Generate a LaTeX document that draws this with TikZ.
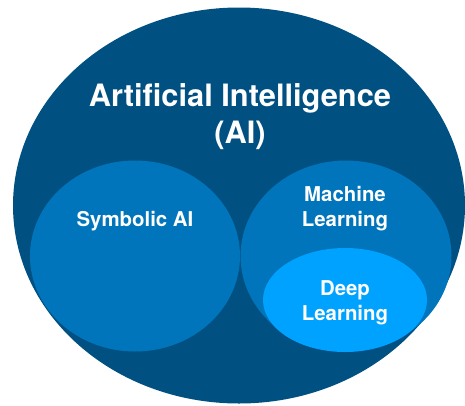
\documentclass[tikz,border=0pt]{standalone}
\usepackage{fontspec}
\setmainfont{TeX Gyre Heros}
\usetikzlibrary{shapes.geometric}
\definecolor{aidark}{RGB}{0,80,130}
\definecolor{aimid}{RGB}{0,117,187}
\definecolor{ailight}{RGB}{0,162,255}
\tikzset{
  blob/.style={ellipse, inner sep=0pt, draw=none},
  lbl/.style={anchor=base, text=white, inner sep=0pt, font=\bfseries\fontsize{20.4}{25}\selectfont},
  ttl/.style={anchor=base, text=white, inner sep=0pt, font=\bfseries\fontsize{30.8}{38}\selectfont}
}
\begin{document}
\begin{tikzpicture}[x=1pt,y=-1pt]
\useasboundingbox (0,0) rectangle (465,405);
\node[blob, fill=aidark, minimum width=452pt, minimum height=396pt] (ai) at (239,205.5) {};
\node[blob, fill=aimid, minimum width=210pt, minimum height=191pt] (sym) at (135,256) {};
\node[blob, fill=aimid, minimum width=211pt, minimum height=191pt] (ml) at (346,256) {};
\node[blob, fill=ailight, minimum width=164pt, minimum height=104pt] (dl) at (345,300) {};
\node[ttl] (t1) at (240,106) {Artificial Intelligence};
\node[ttl] (t2) at (240,143.5) {(AI)};
\node[lbl] (s1) at (135,226.5) {Symbolic AI};
\node[lbl] (m1) at (345,201.5) {Machine};
\node[lbl] (m2) at (345,226.5) {Learning};
\node[lbl] (d1) at (345,295.5) {Deep};
\node[lbl] (d2) at (345,320.5) {Learning};
\end{tikzpicture}
\end{document}
